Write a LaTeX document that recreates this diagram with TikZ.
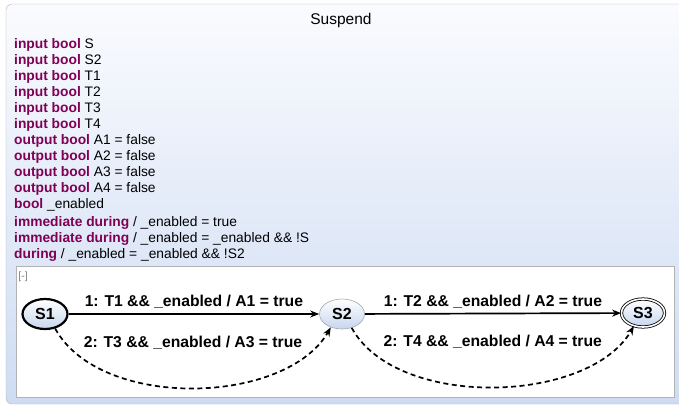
\documentclass[tikz,border=0pt]{standalone}
\usepackage{fontspec}
\setmainfont{Liberation Sans}
\usetikzlibrary{arrows.meta, positioning, shapes.geometric}
\definecolor{kwpurple}{HTML}{7F0055}
\definecolor{framegray}{HTML}{B2B2B2}
\definecolor{panetop}{HTML}{FAFBFE}
\definecolor{panebot}{HTML}{CEDCF3}
\definecolor{statebot}{HTML}{C6D6EE}
\definecolor{stateline}{HTML}{A0A8B4}
\newcommand{\kw}[1]{\textcolor{kwpurple}{\textbf{#1}}}
\tikzset{
  >={Stealth[length=9pt,width=7pt]},
  state/.style={
    ellipse, draw=#1, top color=white, bottom color=statebot,
    minimum width=45pt, minimum height=30pt, inner sep=0pt,
    font=\bfseries\fontsize{16}{18}\selectfont
  },
  state/.default=black,
  trans/.style={->, line width=1.7pt},
  transd/.style={trans, dash pattern=on 5pt off 3.5pt},
  tlabel/.style={font=\bfseries\fontsize{15.7}{18}\selectfont, inner sep=1pt},
  decl/.style={anchor=north west, align=left, inner sep=0pt,
    font=\fontsize{13.8}{16}\selectfont}
}
\begin{document}
\begin{tikzpicture}[x=1pt,y=-1pt]
  \useasboundingbox (0,0) rectangle (679,405);
  \draw[framegray, top color=panetop, bottom color=panebot, rounded corners=6pt]
    (6,4) rectangle (700,404);
  \node[font=\fontsize{15.5}{18}\selectfont] (title) at (341,20) {Suspend};
  \node[decl] (decls) at (14,38) {%
    \kw{input bool} S\\
    \kw{input bool} S2\\
    \kw{input bool} T1\\
    \kw{input bool} T2\\
    \kw{input bool} T3\\
    \kw{input bool} T4\\
    \kw{output bool} A1 = false\\
    \kw{output bool} A2 = false\\
    \kw{output bool} A3 = false\\
    \kw{output bool} A4 = false\\
    \kw{bool} \_enabled\\[2pt]
    \kw{immediate during} / \_enabled = true\\
    \kw{immediate during} / \_enabled = \_enabled \&\& !S\\
    \kw{during} / \_enabled = \_enabled \&\& !S2};
  \draw[framegray, fill=white] (16,266) rectangle (674,397);
  \node[text=gray, font=\fontsize{10.5}{12}\selectfont] (fold) at (23,277) {[-]};

  \node[state, line width=2.2pt] (s1) at (45,314) {S1};
  \node[state=stateline, line width=0.6pt] (s2) at (342,314) {S2};
  \node[state, double, double distance=1.6pt, line width=0.8pt,
    minimum width=43pt, minimum height=28pt] (s3) at (643,313) {S3};

  \draw[trans] (s1) -- node[tlabel, above=3.5pt] {1: T1 \&\& \_enabled / A1 = true} (s2);
  \draw[transd] (s1.-55) .. controls +(45,82) and +(-45,78) .. (s2.-130)
    node[tlabel, pos=0.5, above=37pt] {2: T3 \&\& \_enabled / A3 = true};
  \draw[trans] (s2) -- node[tlabel, above=3.5pt] {1: T2 \&\& \_enabled / A2 = true} (s3);
  \draw[transd] (s2.-55) .. controls +(45,82) and +(-45,78) .. (s3.-125)
    node[tlabel, pos=0.5, above=37pt] {2: T4 \&\& \_enabled / A4 = true};
\end{tikzpicture}
\end{document}
